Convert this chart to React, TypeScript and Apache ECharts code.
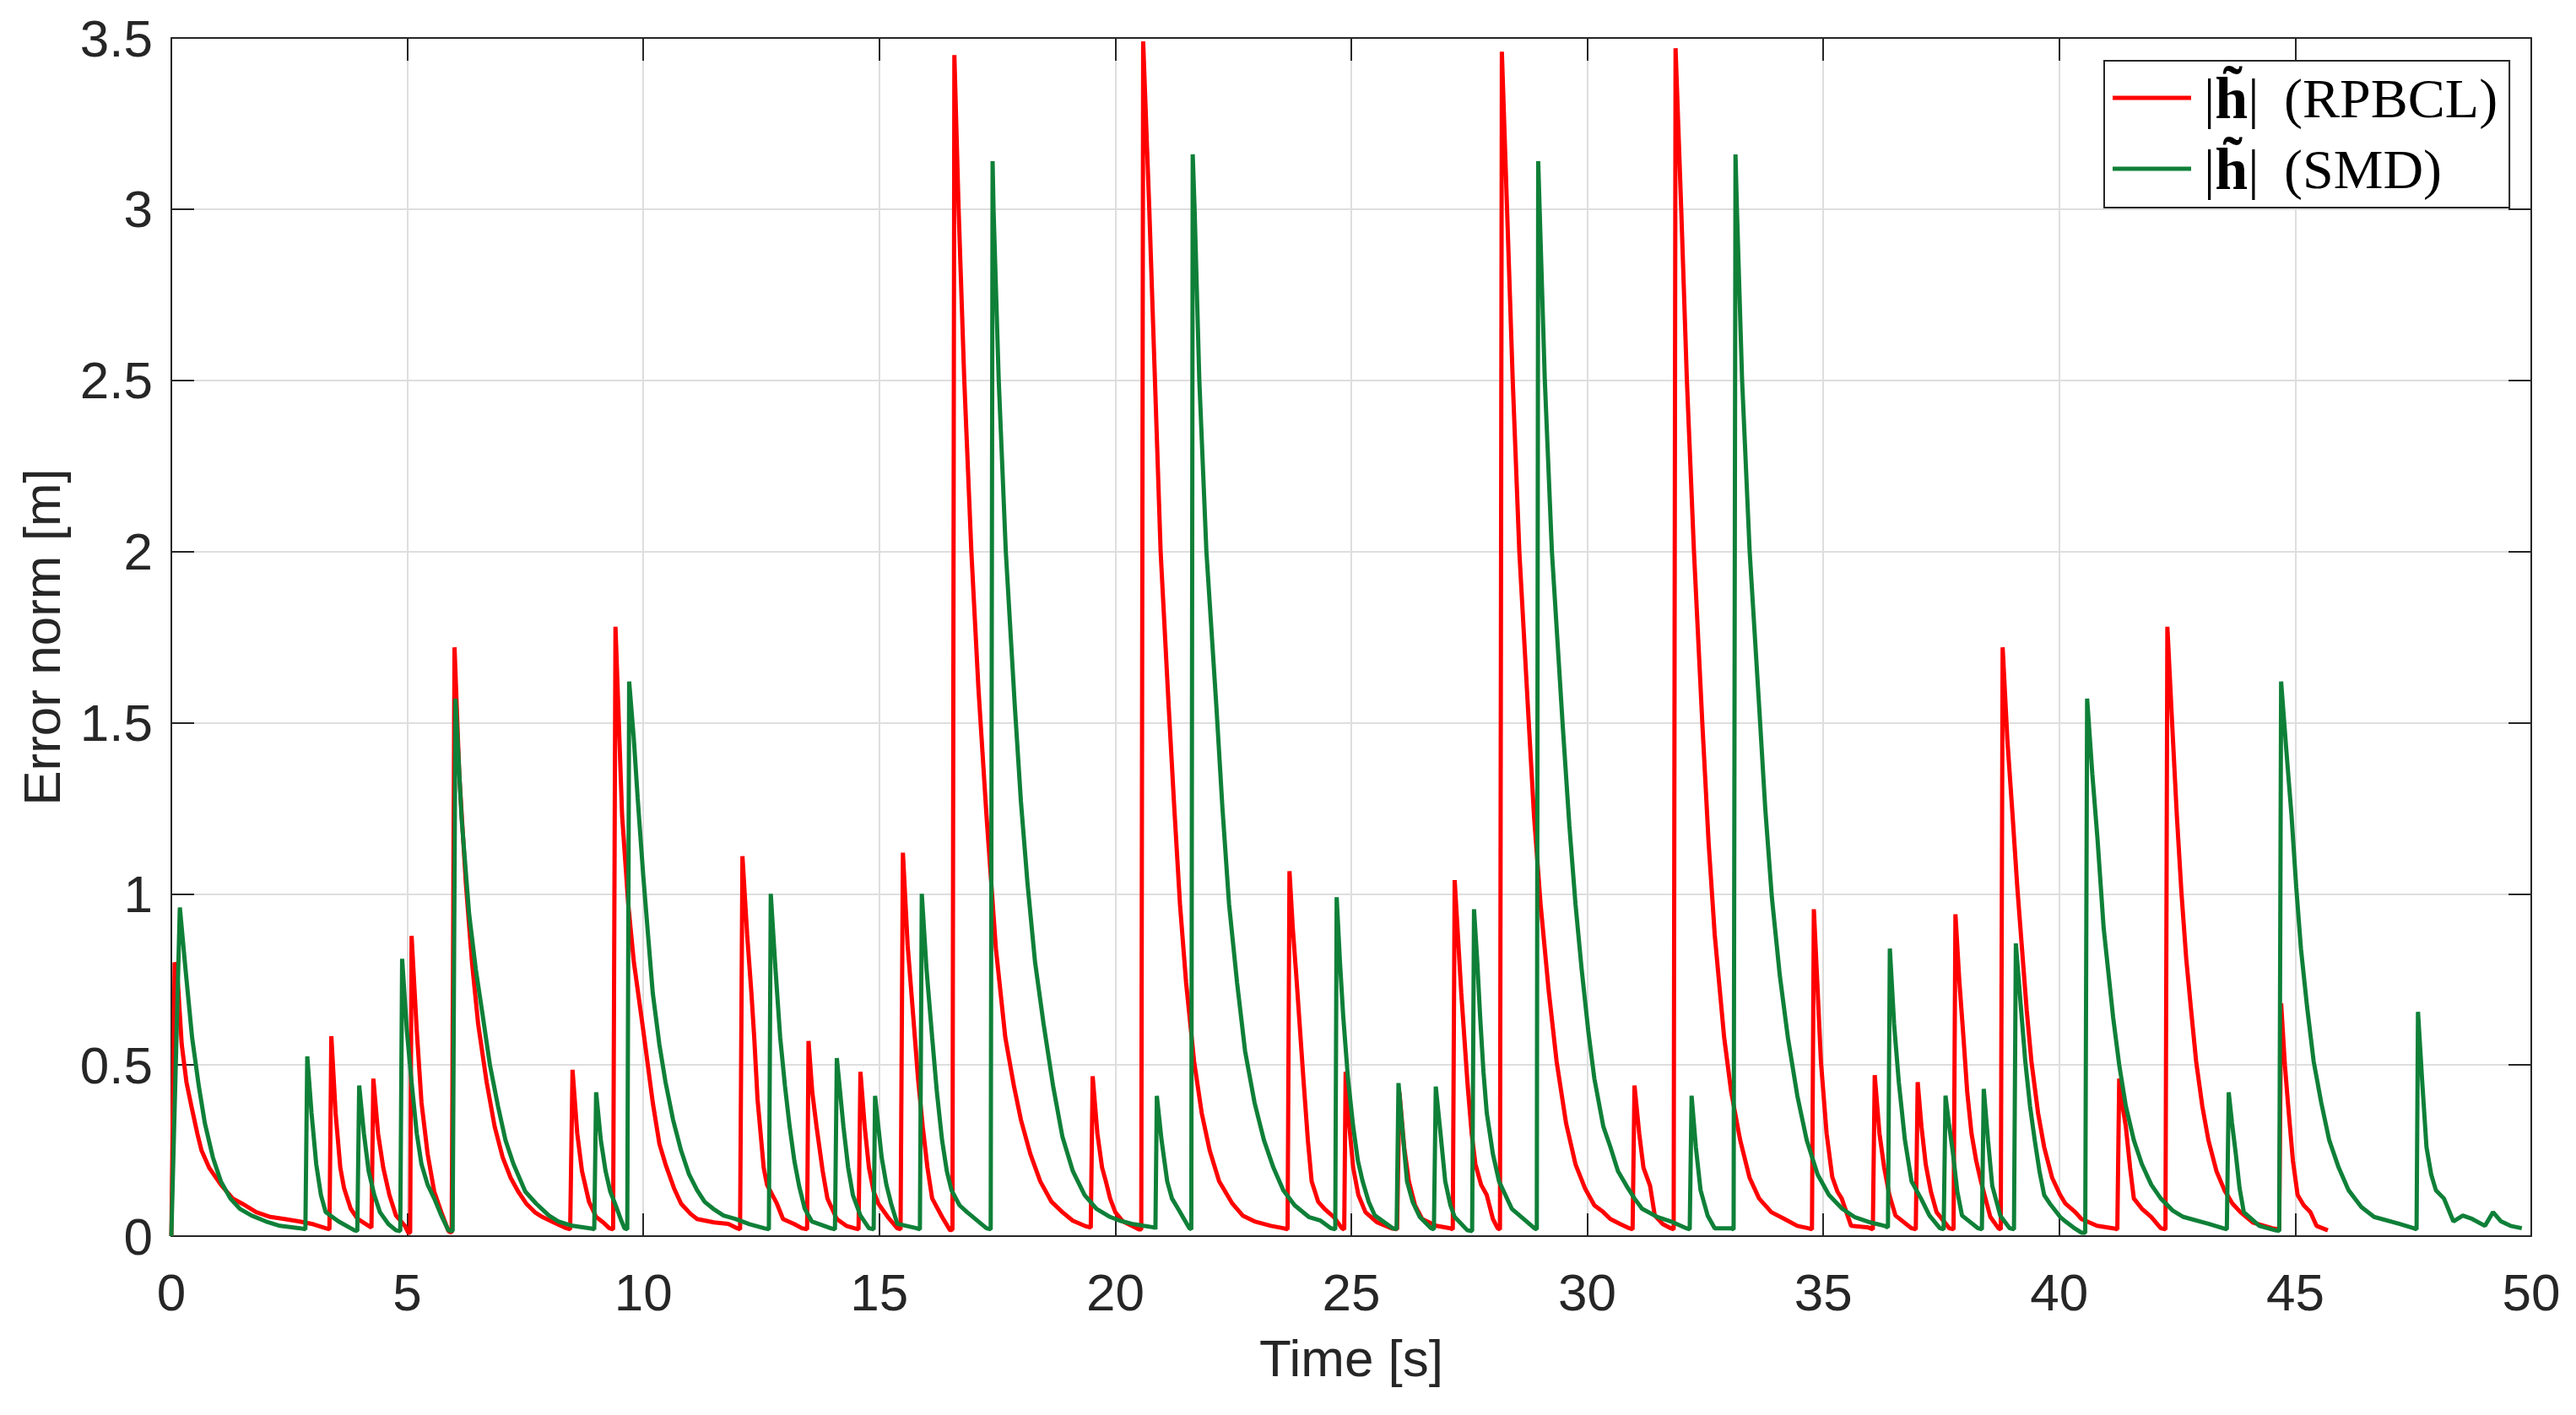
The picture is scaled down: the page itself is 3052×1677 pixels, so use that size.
import React, { useEffect, useRef } from "react";
import * as echarts from "echarts";

const xTicks = { min: 0, max: 50, interval: 5 };
const yTicks = { min: 0, max: 3.5, interval: 0.5 };
const seriesNames = ["RPBCL", "SMD"];

// |h~| (RPBCL) : [time s, error norm m]
const rpbcl: [number, number][] = [
  [0, 0], [0.07, 0.8], [0.13, 0.76], [0.22, 0.56], [0.32, 0.45], [0.44, 0.37], [0.55, 0.3], [0.64, 0.25], [0.8, 0.2], [1.05, 0.15], [1.3, 0.11], [1.5, 0.095], [1.8, 0.07], [2.1, 0.056], [2.4, 0.05], [2.7, 0.043], [3.0, 0.035], [3.27, 0.023],
  [3.35, 0.02], [3.39, 0.584], [3.48, 0.36], [3.58, 0.2], [3.66, 0.14], [3.8, 0.08], [3.95, 0.05], [4.18, 0.03],
  [4.24, 0.025], [4.28, 0.46], [4.38, 0.3], [4.49, 0.2], [4.62, 0.12], [4.76, 0.06], [4.95, 0.03], [5.02, 0.01],
  [5.06, 0.01], [5.09, 0.877], [5.2, 0.6], [5.3, 0.39], [5.43, 0.24], [5.57, 0.13], [5.72, 0.07], [5.87, 0.015],
  [5.94, 0.01], [6.0, 1.72], [6.1, 1.35], [6.24, 1.03], [6.37, 0.8], [6.5, 0.62], [6.68, 0.45], [6.85, 0.32], [7.02, 0.23], [7.19, 0.17], [7.35, 0.13], [7.52, 0.095], [7.7, 0.07], [7.86, 0.056], [8.1, 0.04], [8.37, 0.023],
  [8.45, 0.02], [8.5, 0.486], [8.6, 0.3], [8.7, 0.19], [8.85, 0.1], [9.0, 0.056], [9.15, 0.04], [9.28, 0.023],
  [9.36, 0.02], [9.41, 1.78], [9.55, 1.23], [9.68, 0.97], [9.8, 0.8], [10.0, 0.6], [10.2, 0.39], [10.34, 0.27], [10.47, 0.21], [10.65, 0.14], [10.8, 0.095], [11.0, 0.065], [11.14, 0.05], [11.5, 0.04], [11.8, 0.036], [11.99, 0.023],
  [12.05, 0.02], [12.1, 1.11], [12.2, 0.88], [12.29, 0.71], [12.35, 0.58], [12.42, 0.4], [12.55, 0.2], [12.62, 0.15], [12.83, 0.095], [12.96, 0.05], [13.2, 0.035], [13.36, 0.023],
  [13.47, 0.02], [13.5, 0.57], [13.58, 0.42], [13.67, 0.32], [13.8, 0.19], [13.9, 0.11], [14.1, 0.05], [14.3, 0.03], [14.47, 0.023],
  [14.56, 0.02], [14.6, 0.48], [14.69, 0.32], [14.78, 0.2], [14.88, 0.13], [14.98, 0.095], [15.18, 0.056], [15.38, 0.023],
  [15.45, 0.02], [15.5, 1.12], [15.6, 0.85], [15.72, 0.64], [15.82, 0.46], [15.92, 0.32], [16.02, 0.2], [16.12, 0.11], [16.33, 0.056], [16.5, 0.017],
  [16.55, 0.02], [16.59, 3.45], [16.68, 3.0], [16.8, 2.5], [16.95, 2.0], [17.1, 1.6], [17.27, 1.23], [17.47, 0.84], [17.67, 0.58], [17.85, 0.44], [18.0, 0.34], [18.2, 0.24], [18.41, 0.16], [18.65, 0.1], [18.88, 0.07], [19.1, 0.045], [19.35, 0.03],
  [19.48, 0.025], [19.52, 0.467], [19.62, 0.3], [19.72, 0.2], [19.8, 0.16], [19.89, 0.11], [20.0, 0.07], [20.16, 0.043], [20.35, 0.03], [20.5, 0.02],
  [20.55, 0.02], [20.59, 3.49], [20.72, 3.0], [20.84, 2.5], [20.96, 2.0], [21.13, 1.55], [21.25, 1.25], [21.37, 0.97], [21.5, 0.74], [21.67, 0.51], [21.83, 0.36], [22.0, 0.25], [22.2, 0.16], [22.48, 0.095], [22.7, 0.06], [22.95, 0.043], [23.3, 0.03], [23.56, 0.023],
  [23.65, 0.02], [23.69, 1.066], [23.76, 0.9], [23.83, 0.77], [23.99, 0.45], [24.08, 0.28], [24.16, 0.16], [24.3, 0.1], [24.43, 0.08], [24.63, 0.056], [24.8, 0.023],
  [24.85, 0.02], [24.88, 0.48], [24.96, 0.32], [25.04, 0.2], [25.15, 0.12], [25.3, 0.07], [25.55, 0.04], [25.85, 0.023],
  [25.97, 0.02], [26.02, 0.42], [26.12, 0.26], [26.22, 0.16], [26.35, 0.09], [26.5, 0.05], [26.8, 0.03], [27.1, 0.023],
  [27.15, 0.02], [27.19, 1.04], [27.33, 0.71], [27.46, 0.45], [27.55, 0.3], [27.63, 0.21], [27.75, 0.15], [27.87, 0.12], [28.0, 0.05], [28.1, 0.023],
  [28.15, 0.02], [28.19, 3.46], [28.3, 3.0], [28.42, 2.5], [28.56, 2.0], [28.74, 1.55], [28.87, 1.23], [29.01, 0.97], [29.18, 0.72], [29.35, 0.51], [29.55, 0.33], [29.75, 0.21], [29.95, 0.14], [30.15, 0.09], [30.34, 0.07], [30.49, 0.05], [30.7, 0.035], [30.89, 0.023],
  [30.96, 0.02], [31.0, 0.44], [31.1, 0.3], [31.19, 0.2], [31.33, 0.147], [31.43, 0.06], [31.6, 0.035], [31.77, 0.023],
  [31.83, 0.02], [31.87, 3.47], [31.99, 3.0], [32.11, 2.5], [32.26, 2.0], [32.44, 1.49], [32.57, 1.15], [32.7, 0.88], [32.9, 0.58], [33.05, 0.42], [33.24, 0.28], [33.44, 0.17], [33.64, 0.11], [33.9, 0.07], [34.18, 0.05], [34.45, 0.03], [34.68, 0.023],
  [34.76, 0.02], [34.8, 0.955], [34.88, 0.72], [34.95, 0.51], [35.07, 0.3], [35.19, 0.173], [35.3, 0.13], [35.39, 0.11], [35.59, 0.03], [35.96, 0.025],
  [36.05, 0.02], [36.09, 0.47], [36.19, 0.3], [36.29, 0.2], [36.4, 0.12], [36.53, 0.06], [36.87, 0.023],
  [36.96, 0.02], [37.0, 0.45], [37.08, 0.32], [37.17, 0.21], [37.28, 0.13], [37.4, 0.07], [37.67, 0.023],
  [37.76, 0.02], [37.8, 0.94], [37.88, 0.75], [37.97, 0.58], [38.05, 0.42], [38.14, 0.3], [38.24, 0.22], [38.34, 0.16], [38.54, 0.056], [38.71, 0.023],
  [38.76, 0.02], [38.8, 1.72], [38.9, 1.45], [39.01, 1.23], [39.11, 1.02], [39.21, 0.84], [39.31, 0.66], [39.41, 0.51], [39.55, 0.36], [39.68, 0.26], [39.85, 0.17], [40.02, 0.12], [40.13, 0.095], [40.34, 0.07], [40.47, 0.05], [40.8, 0.03], [41.14, 0.023],
  [41.23, 0.02], [41.27, 0.46], [41.34, 0.38], [41.41, 0.32], [41.5, 0.2], [41.58, 0.11], [41.75, 0.08], [41.95, 0.056], [42.15, 0.023],
  [42.25, 0.02], [42.29, 1.78], [42.39, 1.5], [42.49, 1.23], [42.59, 1.0], [42.69, 0.81], [42.8, 0.65], [42.9, 0.51], [43.03, 0.38], [43.16, 0.28], [43.33, 0.19], [43.5, 0.134], [43.67, 0.095], [43.84, 0.07], [44.1, 0.04], [44.51, 0.023],
  [44.66, 0.02], [44.7, 0.68], [44.78, 0.5], [44.85, 0.38], [44.95, 0.22], [45.05, 0.12], [45.18, 0.09], [45.32, 0.07], [45.45, 0.03], [45.69, 0.017],
];

// |h~| (SMD) : [time s, error norm m]
const smd: [number, number][] = [
  [0, 0], [0.18, 0.96], [0.3, 0.78], [0.44, 0.58], [0.58, 0.44], [0.71, 0.33], [0.88, 0.23], [1.05, 0.16], [1.25, 0.11], [1.45, 0.08], [1.7, 0.06], [2.0, 0.043], [2.3, 0.03], [2.73, 0.023],
  [2.84, 0.02], [2.88, 0.525], [2.97, 0.36], [3.07, 0.21], [3.17, 0.12], [3.27, 0.07], [3.54, 0.043], [3.88, 0.017],
  [3.94, 0.015], [3.98, 0.44], [4.08, 0.3], [4.18, 0.19], [4.3, 0.12], [4.42, 0.07], [4.6, 0.035], [4.76, 0.017],
  [4.85, 0.015], [4.89, 0.81], [4.99, 0.6], [5.09, 0.45], [5.2, 0.3], [5.3, 0.21], [5.43, 0.15], [5.57, 0.11], [5.72, 0.06], [5.87, 0.017],
  [5.96, 0.015], [6.02, 1.57], [6.15, 1.22], [6.31, 0.94], [6.45, 0.78], [6.58, 0.66], [6.75, 0.5], [6.92, 0.38], [7.08, 0.28], [7.25, 0.21], [7.5, 0.13], [7.73, 0.095], [8.0, 0.06], [8.2, 0.043], [8.5, 0.03], [8.87, 0.023],
  [8.96, 0.02], [9.0, 0.42], [9.1, 0.28], [9.2, 0.19], [9.3, 0.13], [9.4, 0.095], [9.52, 0.05], [9.6, 0.023],
  [9.66, 0.02], [9.7, 1.62], [9.8, 1.45], [9.88, 1.28], [10.0, 1.05], [10.1, 0.88], [10.2, 0.71], [10.34, 0.56], [10.47, 0.45], [10.63, 0.34], [10.8, 0.25], [10.97, 0.18], [11.14, 0.134], [11.3, 0.1], [11.48, 0.08], [11.7, 0.06], [11.95, 0.05], [12.25, 0.035], [12.56, 0.023],
  [12.66, 0.02], [12.7, 1.0], [12.8, 0.78], [12.9, 0.58], [13.0, 0.44], [13.1, 0.32], [13.2, 0.22], [13.3, 0.147], [13.42, 0.08], [13.57, 0.043], [13.97, 0.023],
  [14.06, 0.02], [14.1, 0.52], [14.17, 0.42], [14.24, 0.32], [14.34, 0.2], [14.44, 0.12], [14.6, 0.06], [14.78, 0.023],
  [14.88, 0.02], [14.91, 0.41], [14.98, 0.32], [15.05, 0.23], [15.15, 0.15], [15.25, 0.095], [15.38, 0.036], [15.79, 0.023],
  [15.86, 0.02], [15.9, 1.0], [16.0, 0.78], [16.12, 0.58], [16.22, 0.42], [16.33, 0.28], [16.43, 0.19], [16.53, 0.134], [16.7, 0.09], [16.86, 0.07], [17.27, 0.023],
  [17.36, 0.02], [17.4, 3.14], [17.42, 3.0], [17.53, 2.5], [17.68, 2.0], [17.87, 1.55], [18.0, 1.27], [18.14, 1.03], [18.3, 0.8], [18.48, 0.62], [18.68, 0.44], [18.88, 0.29], [19.1, 0.19], [19.35, 0.12], [19.6, 0.08], [19.89, 0.056], [20.1, 0.045], [20.35, 0.036], [20.6, 0.03], [20.84, 0.025],
  [20.85, 0.02], [20.88, 0.41], [20.98, 0.28], [21.1, 0.16], [21.2, 0.11], [21.33, 0.08], [21.57, 0.023],
  [21.61, 0.02], [21.64, 3.16], [21.68, 3.0], [21.78, 2.5], [21.93, 2.0], [22.14, 1.55], [22.27, 1.25], [22.41, 0.97], [22.58, 0.74], [22.75, 0.54], [22.95, 0.39], [23.15, 0.28], [23.35, 0.2], [23.56, 0.134], [23.8, 0.09], [24.1, 0.056], [24.35, 0.045], [24.57, 0.023],
  [24.66, 0.02], [24.69, 0.99], [24.76, 0.8], [24.83, 0.64], [24.93, 0.46], [25.04, 0.32], [25.14, 0.22], [25.24, 0.16], [25.37, 0.1], [25.5, 0.06], [25.88, 0.023],
  [25.96, 0.02], [26.0, 0.447], [26.09, 0.3], [26.18, 0.16], [26.3, 0.1], [26.45, 0.056], [26.69, 0.023],
  [26.75, 0.02], [26.79, 0.437], [26.89, 0.3], [26.99, 0.16], [27.1, 0.09], [27.19, 0.056], [27.46, 0.017],
  [27.56, 0.015], [27.6, 0.955], [27.67, 0.8], [27.73, 0.64], [27.8, 0.48], [27.87, 0.36], [28.0, 0.24], [28.13, 0.16], [28.4, 0.08], [28.88, 0.023],
  [28.93, 0.02], [28.96, 3.14], [28.99, 3.0], [29.1, 2.5], [29.25, 2.0], [29.48, 1.49], [29.62, 1.2], [29.75, 0.97], [29.88, 0.78], [30.02, 0.6], [30.15, 0.46], [30.34, 0.32], [30.49, 0.26], [30.65, 0.19], [30.83, 0.147], [31.0, 0.11], [31.16, 0.08], [31.5, 0.055], [31.77, 0.043], [32.1, 0.023],
  [32.17, 0.02], [32.21, 0.41], [32.3, 0.26], [32.4, 0.134], [32.55, 0.06], [32.7, 0.023], [33.04, 0.023],
  [33.1, 0.02], [33.14, 3.16], [33.17, 3.0], [33.28, 2.5], [33.44, 2.0], [33.64, 1.55], [33.77, 1.25], [33.91, 0.99], [34.08, 0.76], [34.25, 0.58], [34.45, 0.41], [34.65, 0.28], [34.88, 0.18], [35.12, 0.12], [35.4, 0.08], [35.66, 0.056], [36.0, 0.04], [36.3, 0.03],
  [36.37, 0.025], [36.41, 0.84], [36.5, 0.62], [36.6, 0.45], [36.73, 0.28], [36.87, 0.16], [37.07, 0.11], [37.25, 0.06], [37.47, 0.023],
  [37.55, 0.02], [37.59, 0.41], [37.66, 0.33], [37.74, 0.25], [37.84, 0.13], [37.94, 0.06], [38.28, 0.023],
  [38.36, 0.02], [38.4, 0.43], [38.49, 0.28], [38.58, 0.147], [38.75, 0.06], [38.95, 0.023],
  [39.04, 0.02], [39.08, 0.855], [39.18, 0.68], [39.28, 0.51], [39.38, 0.38], [39.48, 0.28], [39.58, 0.19], [39.68, 0.12], [39.8, 0.095], [40.02, 0.056], [40.13, 0.043], [40.3, 0.025], [40.47, 0.01],
  [40.55, 0.01], [40.59, 1.57], [40.7, 1.35], [40.81, 1.16], [40.94, 0.9], [41.04, 0.77], [41.14, 0.64], [41.27, 0.5], [41.41, 0.38], [41.58, 0.28], [41.75, 0.21], [41.95, 0.15], [42.15, 0.11], [42.4, 0.075], [42.63, 0.056], [43.16, 0.036], [43.47, 0.023],
  [43.55, 0.02], [43.59, 0.42], [43.66, 0.33], [43.74, 0.24], [43.82, 0.14], [43.91, 0.07], [44.24, 0.03], [44.58, 0.017],
  [44.66, 0.015], [44.7, 1.62], [44.81, 1.42], [44.92, 1.23], [45.02, 1.02], [45.12, 0.84], [45.25, 0.67], [45.39, 0.51], [45.55, 0.39], [45.72, 0.28], [45.92, 0.2], [46.13, 0.134], [46.4, 0.085], [46.67, 0.056], [47.2, 0.036], [47.51, 0.023],
  [47.57, 0.02], [47.6, 0.655], [47.69, 0.45], [47.78, 0.26], [47.88, 0.18], [47.98, 0.134], [48.15, 0.11], [48.35, 0.043], [48.55, 0.06], [48.75, 0.05], [49.02, 0.03], [49.19, 0.07], [49.36, 0.043], [49.56, 0.03], [49.8, 0.023],
];

const AXIS = "#262626";
const RED = "#ff0000";
const GREEN = "#0f8038";
const SANS = "'Liberation Sans', Arial, Helvetica, sans-serif";
const SERIF = "'Liberation Serif', 'DejaVu Serif', 'Times New Roman', serif";

export default function App() {
  const ref = useRef<HTMLDivElement>(null);

  useEffect(() => {
    document.body.style.margin = "0";
    document.body.style.overflow = "hidden";
    if (!ref.current) return;
    const chart = echarts.init(ref.current, undefined, { renderer: "svg" });

    const axisLine = { show: true, onZero: false, lineStyle: { color: AXIS, width: 2 } };
    const axisTick = { show: true, inside: true, length: 27, lineStyle: { color: AXIS, width: 2 } };
    const splitLine = { show: true, lineStyle: { color: "#dedede", width: 2 } };

    chart.setOption({
      animation: false,
      backgroundColor: "#ffffff",
      grid: { left: 203, right: 53, top: 45, bottom: 212, containLabel: false },
      legend: {
        orient: "vertical",
        left: 2493,
        top: 72,
        padding: [4, 14, 6, 10],
        itemGap: 4,
        itemWidth: 93,
        itemHeight: 5,
        icon: "rect",
        borderColor: AXIS,
        borderWidth: 2,
        borderRadius: 0,
        backgroundColor: "#ffffff",
        selectedMode: false,
        data: [
          { name: seriesNames[0], itemStyle: { color: RED } },
          { name: seriesNames[1], itemStyle: { color: GREEN } },
        ],
        formatter: (name: string) => `|{b|h\u0303}| \u2009(${name})`,
        textStyle: {
          fontFamily: SERIF,
          fontSize: 66,
          color: "#000000",
          lineHeight: 80,
          padding: [0, 0, 0, 10],
          rich: {
            b: { fontFamily: SERIF, fontWeight: "bold", fontSize: 70, lineHeight: 80, color: "#000000" },
          },
        },
      },
      xAxis: [
        {
          type: "value",
          position: "bottom",
          ...xTicks,
          axisLine,
          axisTick,
          splitLine,
          axisLabel: { fontFamily: SANS, fontSize: 62, color: AXIS, margin: 35 },
          name: "Time [s]",
          nameLocation: "middle",
          nameGap: 113,
          nameTextStyle: { fontFamily: SANS, fontSize: 62, color: AXIS },
        },
        {
          type: "value",
          position: "top",
          ...xTicks,
          axisLine,
          axisTick,
          splitLine: { show: false },
          axisLabel: { show: false },
        },
      ],
      yAxis: [
        {
          type: "value",
          position: "left",
          ...yTicks,
          axisLine,
          axisTick,
          splitLine,
          axisLabel: { fontFamily: SANS, fontSize: 62, color: AXIS, margin: 22 },
          name: "Error norm [m]",
          nameLocation: "middle",
          nameGap: 123,
          nameTextStyle: { fontFamily: SANS, fontSize: 62, color: AXIS },
        },
        {
          type: "value",
          position: "right",
          ...yTicks,
          axisLine,
          axisTick,
          splitLine: { show: false },
          axisLabel: { show: false },
        },
      ],
      series: [
        {
          name: seriesNames[0],
          type: "line",
          xAxisIndex: 0,
          yAxisIndex: 0,
          data: rpbcl,
          symbol: "none",
          showSymbol: false,
          color: RED,
          lineStyle: { color: RED, width: 5 },
          silent: true,
        },
        {
          name: seriesNames[1],
          type: "line",
          xAxisIndex: 0,
          yAxisIndex: 0,
          data: smd,
          symbol: "none",
          showSymbol: false,
          color: GREEN,
          lineStyle: { color: GREEN, width: 5 },
          silent: true,
        },
      ],
    });

    return () => chart.dispose();
  }, []);

  return <div ref={ref} style={{ width: 3052, height: 1677 }} />;
}
